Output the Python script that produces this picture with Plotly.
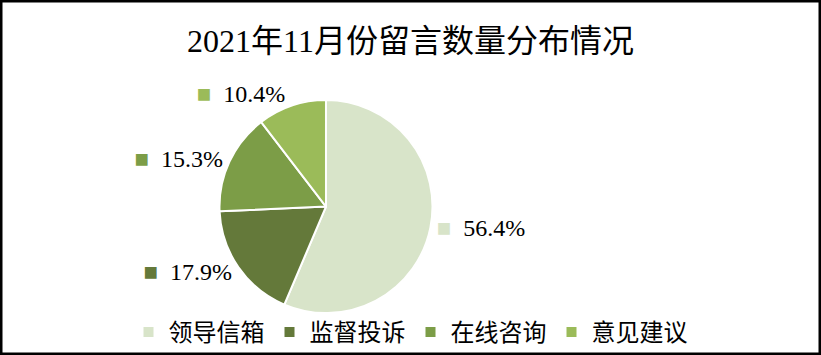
import plotly.graph_objects as go

categories = ["领导信箱", "监督投诉", "在线咨询", "意见建议"]
values = [56.4, 17.9, 15.3, 10.4]
colors = ["#D8E4C9", "#64793A", "#7C9D47", "#9BBB59"]
title_text = "2021年11月份留言数量分布情况"

FONT = "Liberation Serif, Noto Sans CJK SC, serif"

labels_text = [
    f'<span style="color:{c}">■</span>  {v:.1f}%' for c, v in zip(colors, values)
]

fig = go.Figure(
    go.Pie(
        labels=categories,
        values=values,
        text=labels_text,
        textinfo="text",
        textposition="outside",
        outsidetextfont=dict(family=FONT, size=24, color="#000000"),
        marker=dict(colors=colors, line=dict(color="#FFFFFF", width=2)),
        sort=False,
        direction="clockwise",
        rotation=0,
        hoverinfo="skip",
        domain=dict(x=[0.2667, 0.5274], y=[0.118, 0.718]),
    )
)

fig.update_layout(
    width=821,
    height=355,
    margin=dict(l=0, r=0, t=0, b=0),
    paper_bgcolor="#FFFFFF",
    plot_bgcolor="#FFFFFF",
    title=dict(
        text=title_text,
        x=0.5,
        xanchor="center",
        y=0.885,
        yanchor="middle",
        font=dict(family=FONT, size=32, color="#000000"),
    ),
    legend=dict(
        orientation="h",
        x=0.5,
        xanchor="center",
        y=0.0,
        yanchor="bottom",
        bgcolor="rgba(0,0,0,0)",
        font=dict(family=FONT, size=24, color="#000000"),
        itemwidth=30,
        tracegroupgap=0,
    ),
    shapes=[
        dict(
            type="rect",
            xref="paper",
            yref="paper",
            x0=0,
            y0=0,
            x1=1,
            y1=1,
            line=dict(color="#000000", width=5),
            fillcolor="rgba(0,0,0,0)",
            layer="above",
        )
    ],
)

fig.write_html("out.html")
